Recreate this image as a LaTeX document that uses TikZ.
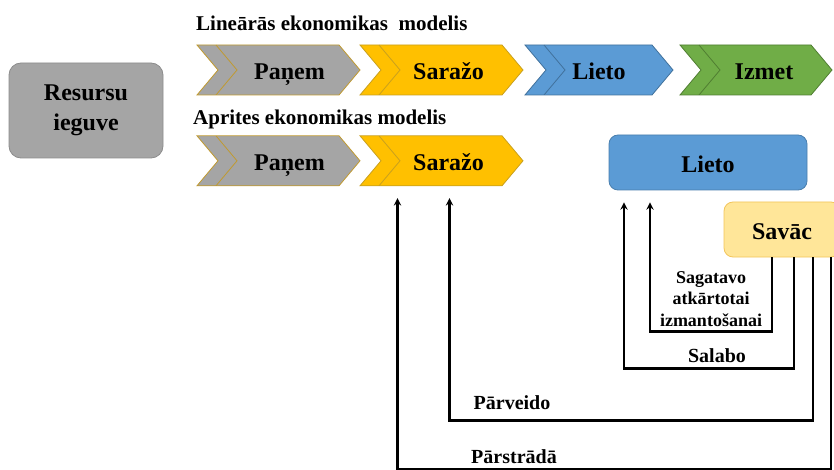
\documentclass[tikz,border=0pt]{standalone}
\usepackage{fontspec}
\setmainfont{Liberation Serif}
\usetikzlibrary{positioning,shapes.symbols,arrows}

\definecolor{takefill}{HTML}{A5A5A5}
\definecolor{takeline}{HTML}{C09A30}
\definecolor{storefill}{HTML}{FFC000}
\definecolor{storeline}{HTML}{C9A01E}
\definecolor{usefill}{HTML}{5B9BD5}
\definecolor{useline}{HTML}{41719C}
\definecolor{dropfill}{HTML}{70AD47}
\definecolor{dropline}{HTML}{507E32}
\definecolor{collectfill}{HTML}{FFE699}
\definecolor{collectline}{HTML}{F2C45A}

\tikzset{chev/.style 2 args={signal, signal from=west, signal to=east, signal pointer angle=100,
    minimum height=50pt, inner sep=0pt, text height=24pt, text depth=4pt, fill=#1, draw=#2, line width=0.8pt,
    font=\fontsize{24}{26}\selectfont\bfseries,
    path picture={\draw[#2, line width=0.8pt] ([xshift=19pt]path picture bounding box.north west)
      -- ([xshift=40pt]path picture bounding box.west) -- ([xshift=19pt]path picture bounding box.south west);}}}
\tikzstyle{take} = [chev={takefill}{takeline}, minimum width=163pt]
\tikzstyle{store} = [chev={storefill}{storeline}, minimum width=163pt]
\tikzstyle{use} = [chev={usefill}{useline}, minimum width=148pt]
\tikzstyle{drop} = [chev={dropfill}{dropline}, minimum width=152pt]
\tikzstyle{box} = [rectangle, rounded corners=9pt, minimum height=55pt, text height=24pt, text depth=4pt, line width=0.8pt, font=\fontsize{24}{26}\selectfont\bfseries]
\tikzstyle{title} = [anchor=west, inner sep=0pt, font=\fontsize{21}{23}\selectfont\bfseries]
\tikzstyle{step label} = [inner sep=0pt, align=center, font=\fontsize{20}{22}\selectfont\bfseries]
\tikzstyle{arrow} = [line width=2.2pt, ->, >=stealth, shorten >=12pt]

\begin{document}
\begin{tikzpicture}[x=1pt, y=-1pt]
	\useasboundingbox (0,0) rectangle (834,470);

	\node (source) [rectangle, fill=takefill, draw=takefill!85!black, line width=0.8pt, minimum width=154pt, minimum height=95pt, rounded corners=12pt, align=center, font=\fontsize{24}{30}\selectfont\bfseries] at (86,110.5) {Resursu\\ieguve};

	\node (lintitle) [title] at (196,23) {Lineārās ekonomikas\ \ modelis};
	\node (take1) [take] at (278.5,70) {\hspace*{22pt}Paņem};
	\node (store1) [store] at (441.5,70) {\hspace*{14pt}Saražo};
	\node (use1) [use] at (599,70) {Lieto};
	\node (drop1) [drop] at (756,70) {\hspace*{16pt}Izmet};

	\node (circtitle) [title] at (193,119) {Aprites ekonomikas modelis};
	\node (take2) [take, below=40pt of take1] {\hspace*{22pt}Paņem};
	\node (store2) [store, below=40pt of store1] {\hspace*{14pt}Saražo};
	\node (use2) [box, fill=usefill, draw=useline!70!usefill, minimum width=198pt] at (708,162.5) {Lieto};
	\node (collect) [box, fill=collectfill, draw=collectline, minimum width=116pt] at (782,229.5) {Savāc};

	\node (prepare) [step label, font=\fontsize{18}{21.5}\selectfont\bfseries] at (711,299) {Sagatavo\\atkārtotai\\izmantošanai};
	\node (repair) [step label] at (717,356) {Salabo};
	\node (remake) [step label] at (512,403) {Pārveido};
	\node (recycle) [step label] at (514,457) {Pārstrādā};

	\draw [arrow] ([xshift=-10pt]collect.south) -- ++(0,74) -| ([xshift=-58pt]use2.south);
	\draw [arrow] ([xshift=12pt]collect.south) -- ++(0,111) -| ([xshift=-84pt]use2.south);
	\draw [arrow] ([xshift=31pt]collect.south) -- ++(0,163) -| ([xshift=8pt]store2.south);
	\draw [arrow] ([xshift=49pt]collect.south) -- ++(0,212) -| ([xshift=-44pt]store2.south);

\end{tikzpicture}
\end{document}
